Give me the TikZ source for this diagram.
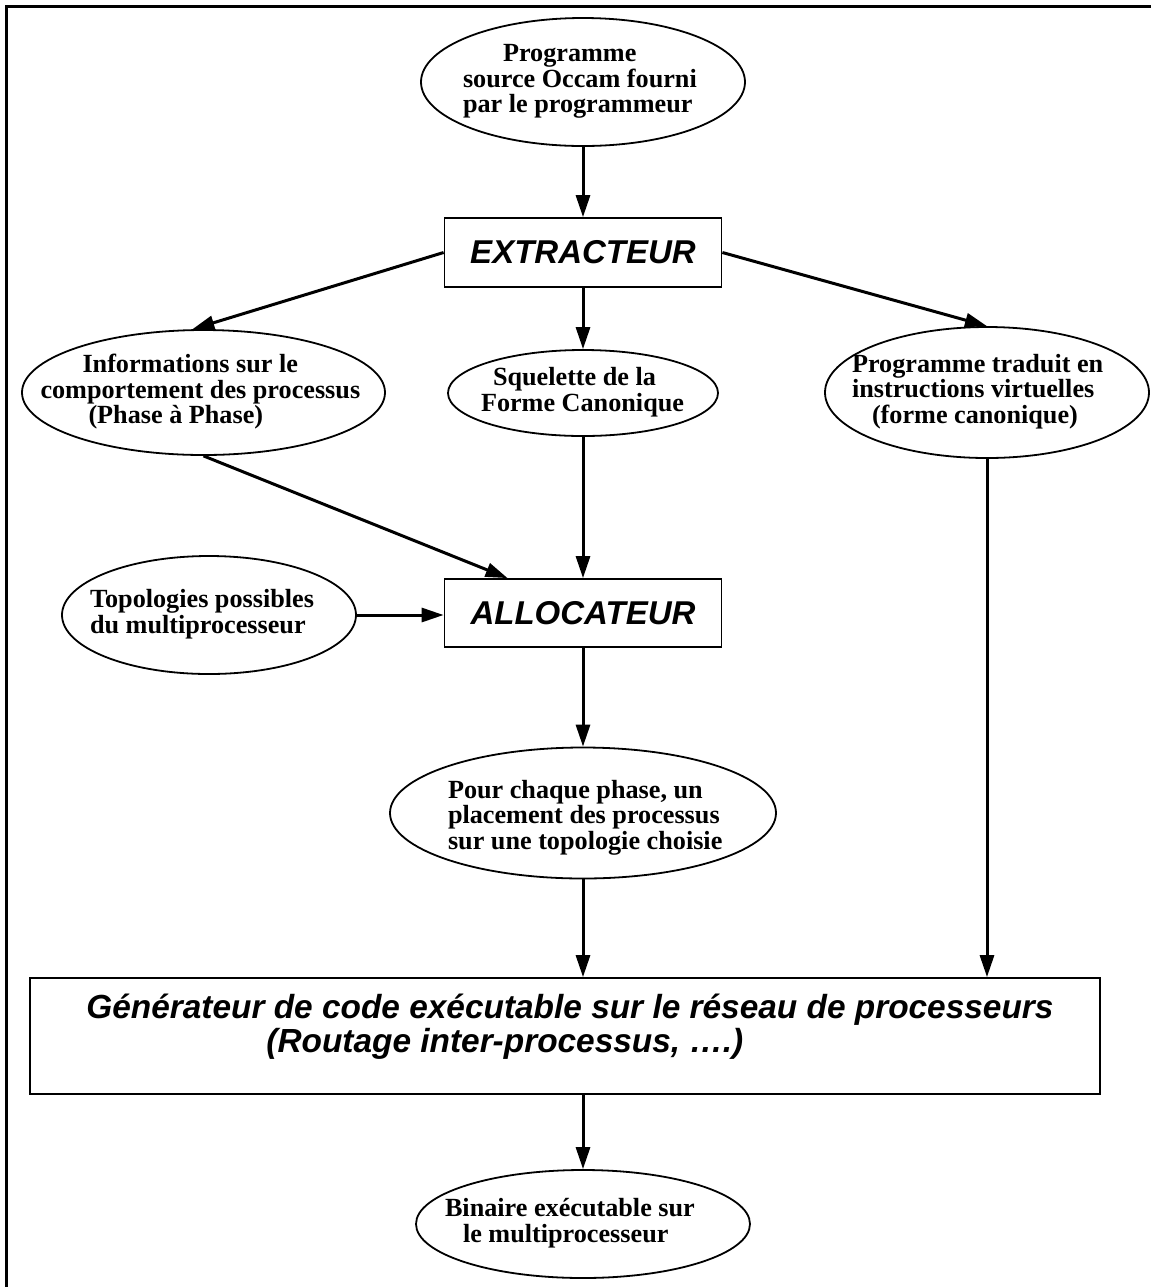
\documentclass[tikz,border=0pt]{standalone}
\usepackage{fontspec}
\setmainfont{Liberation Serif}
\newfontfamily\hvb{Liberation Sans}
\usetikzlibrary{arrows.meta,shapes.geometric}
\newlength\px
\setlength\px{0.5pt}
\newcommand\etx[2]{\makebox[0pt][l]{\kern-#1\px\begin{tabular}{@{}l@{}}#2\end{tabular}}}
\newcommand\ellfont{\fontsize{13.1pt}{12.2pt}\selectfont\bfseries}
\newcommand\boxfont{\fontsize{16.5pt}{18pt}\selectfont\hvb\bfseries\itshape}
\newcommand\genfont{\fontsize{16.7pt}{17pt}\selectfont\hvb\bfseries\itshape}
\tikzset{
  ell/.style={ellipse, draw, line width=0.9pt, inner sep=0pt, font=\ellfont},
  procbox/.style={rectangle, draw, line width=0.9pt, inner sep=0pt, font=\boxfont},
  arr/.style={-{Triangle[length=11pt,width=7pt]}, line width=1.5pt},
  frame/.style={line width=1.5pt}
}
\begin{document}
\begin{tikzpicture}[x=0.5pt,y=-0.5pt]
\useasboundingbox (0,0) rectangle (1151,1287);
% frame
\coordinate (fbl) at (6,1287);
\coordinate (ftl) at (6,6);
\coordinate (ftr) at (1151,6);
\draw[frame] (fbl) -- (ftl) -- (ftr);

% nodes
\node[ell, minimum width=162pt, minimum height=64pt] (src) at (583,82)
  {\etx{120}{\hspace*{40\px}Programme\\source Occam fourni\\par le programmeur}};
\node[procbox, minimum width=138.5pt, minimum height=34.5pt] (ext) at (583,252.5) {EXTRACTEUR};
\node[ell, minimum width=181.5pt, minimum height=62.5pt] (info) at (203.5,392.5)
  {\etx{163}{\hspace*{42\px}Informations sur le\\comportement des processus\\\hspace*{48\px}(Phase à Phase)}};
\node[ell, minimum width=135pt, minimum height=43pt] (squel) at (583,393)
  {\etx{102}{\hspace*{12\px}Squelette de la\\Forme Canonique}};
\node[ell, minimum width=162pt, minimum height=65.5pt] (trad) at (987,392.5)
  {\etx{135}{Programme traduit en\\instructions virtuelles\\\hspace*{20\px}(forme canonique)}};
\node[ell, minimum width=147pt, minimum height=59pt] (topo) at (209,615)
  {\etx{119}{Topologies possibles\\du multiprocesseur}};
\node[procbox, minimum width=138.5pt, minimum height=34pt] (alloc) at (583,613) {ALLOCATEUR};
\node[ell, minimum width=193pt, minimum height=65.5pt] (pour) at (583,813)
  {\etx{135}{\rule{0pt}{14.5pt}Pour chaque phase, un\\placement des processus\\sur une topologie choisie}};
\node[procbox, minimum width=535pt, minimum height=58pt] (gen) at (565,1036) {};
\node[font=\genfont, inner sep=0pt, anchor=base west] (gentext) at (86,1018)
  {\begin{tabular}[t]{@{}l@{}}Générateur de code exécutable sur le réseau de processeurs\\\hspace*{180\px}(Routage inter-processus, ….)\end{tabular}};
\node[ell, minimum width=167pt, minimum height=54pt] (bin) at (583,1224)
  {\etx{138}{Binaire exécutable sur\\\hspace*{18\px}le multiprocesseur}};

% connectors
\draw[arr] (src.south) -- (ext.north);
\draw[arr] (ext.west) -- (info.100);
\draw[arr] (ext.south) -- (squel.north);
\draw[arr] (ext.east) -- (trad.north);
\draw[arr] (info.south) -- ([xshift=32pt]alloc.north west);
\draw[arr] (squel.south) -- (alloc.north);
\draw[arr] (topo.east) -- (topo.east -| alloc.west);
\draw[arr] (alloc.south) -- (pour.north);
\draw[arr] (pour.south) -- (pour.south |- gen.north);
\draw[arr] (trad.south) -- (trad.south |- gen.north);
\draw[arr] (pour.south |- gen.south) -- (bin.north);
\end{tikzpicture}
\end{document}
